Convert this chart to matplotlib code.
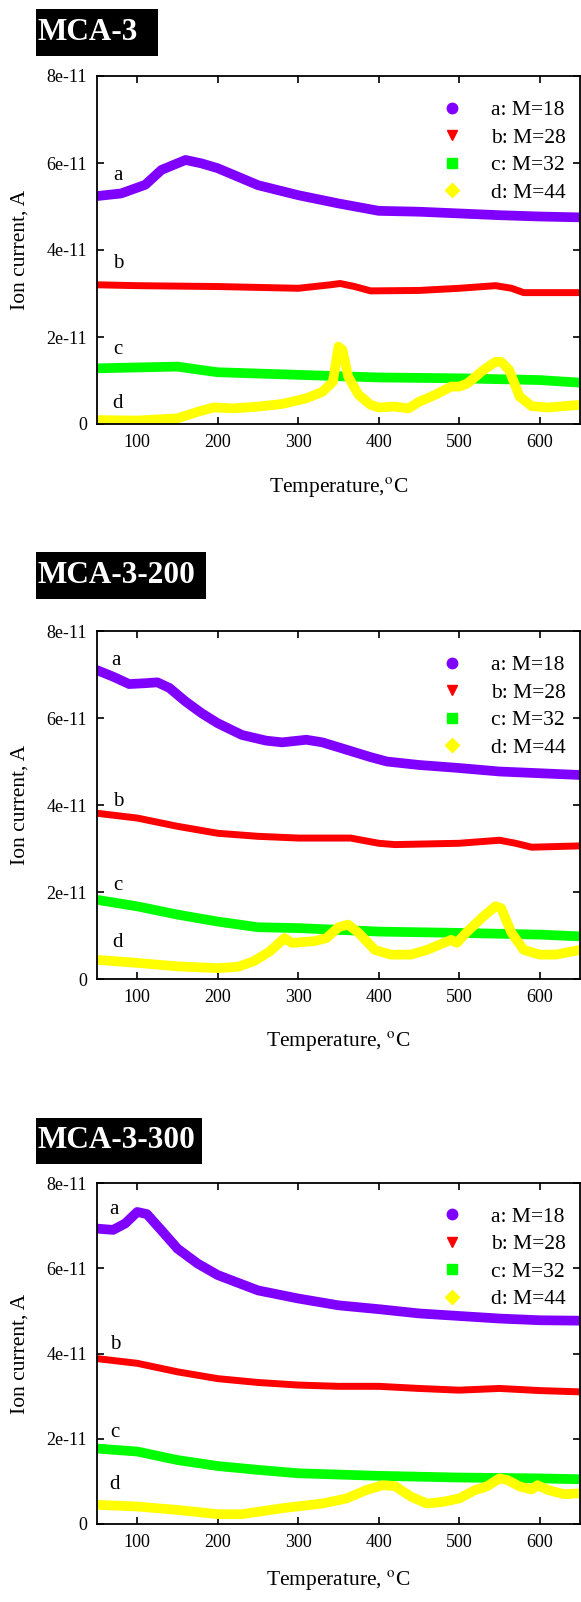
import matplotlib
matplotlib.use('Agg')
import matplotlib.pyplot as plt
from matplotlib.lines import Line2D
from matplotlib.patches import Rectangle

plt.rcParams['font.family'] = ['Liberation Serif', 'DejaVu Serif']
plt.rcParams['mathtext.fontset'] = 'stix'

# --- data (ion current in units of 1e-11 A) ---
# MCA-3
mca3_t_a = [50, 80, 110, 130, 160, 180, 200, 250, 300, 350, 400, 450, 500, 550, 600, 650]
mca3_a = [5.24, 5.3, 5.5, 5.84, 6.07, 5.99, 5.88, 5.49, 5.26, 5.07, 4.9, 4.88, 4.84, 4.8, 4.77, 4.75]
mca3_t_b = [50, 100, 200, 300, 340, 352, 370, 390, 450, 500, 545, 565, 580, 650]
mca3_b = [3.2, 3.18, 3.16, 3.12, 3.2, 3.23, 3.16, 3.06, 3.07, 3.12, 3.18, 3.12, 3.02, 3.02]
mca3_t_c = [50, 150, 180, 200, 300, 400, 500, 600, 650]
mca3_c = [1.28, 1.32, 1.24, 1.19, 1.13, 1.07, 1.05, 1.01, 0.95]
mca3_t_d = [50, 100, 150, 175, 195, 220, 250, 280, 310, 330, 343, 350, 355, 362, 375, 390,
            400, 420, 437, 450, 470, 490, 500, 510, 530, 545, 552, 562, 575, 590, 610, 650]
mca3_d = [0.09, 0.08, 0.13, 0.28, 0.38, 0.36, 0.4, 0.46, 0.59, 0.74, 0.97, 1.78, 1.7, 1.09, 0.67, 0.44,
          0.38, 0.4, 0.36, 0.51, 0.67, 0.86, 0.86, 0.93, 1.24, 1.43, 1.43, 1.24, 0.63, 0.41, 0.38, 0.44]

# MCA-3-200
mca200_t_a = [50, 70, 90, 110, 125, 140, 160, 180, 200, 230, 260, 280, 310, 330, 360, 390,
              410, 450, 500, 550, 600, 650]
mca200_a = [7.1, 6.95, 6.78, 6.8, 6.82, 6.69, 6.38, 6.11, 5.88, 5.61, 5.48, 5.44, 5.5, 5.44, 5.27, 5.1,
            5.0, 4.92, 4.85, 4.77, 4.73, 4.69]
mca200_t_b = [50, 100, 150, 200, 250, 300, 365, 400, 420, 500, 550, 570, 590, 650]
mca200_b = [3.81, 3.7, 3.51, 3.35, 3.28, 3.24, 3.24, 3.12, 3.09, 3.12, 3.19, 3.12, 3.03, 3.06]
mca200_t_c = [50, 100, 150, 200, 250, 300, 350, 400, 500, 600, 650]
mca200_c = [1.82, 1.67, 1.48, 1.32, 1.19, 1.17, 1.13, 1.09, 1.06, 1.02, 0.98]
mca200_t_d = [50, 100, 150, 200, 225, 245, 265, 283, 292, 320, 335, 350, 362, 375, 395, 415,
              440, 460, 490, 497, 510, 530, 545, 552, 565, 580, 600, 620, 650]
mca200_d = [0.44, 0.37, 0.29, 0.25, 0.28, 0.41, 0.64, 0.94, 0.83, 0.87, 0.94, 1.19, 1.25, 1.06, 0.67, 0.56,
            0.56, 0.67, 0.9, 0.83, 1.09, 1.44, 1.67, 1.63, 1.06, 0.67, 0.56, 0.56, 0.67]

# MCA-3-300
mca300_t_a = [50, 70, 85, 100, 112, 130, 150, 175, 200, 250, 300, 350, 400, 450, 500, 550, 600, 650]
mca300_a = [6.93, 6.9, 7.05, 7.32, 7.27, 6.89, 6.46, 6.11, 5.84, 5.48, 5.29, 5.13, 5.04, 4.94, 4.88, 4.82,
            4.78, 4.77]
mca300_t_b = [50, 100, 150, 200, 250, 300, 350, 400, 450, 500, 550, 600, 650]
mca300_b = [3.88, 3.77, 3.57, 3.41, 3.32, 3.26, 3.23, 3.23, 3.18, 3.14, 3.18, 3.13, 3.1]
mca300_t_c = [50, 100, 150, 200, 250, 300, 400, 500, 600, 650]
mca300_c = [1.77, 1.7, 1.5, 1.36, 1.27, 1.19, 1.13, 1.09, 1.07, 1.05]
mca300_t_d = [50, 100, 150, 200, 230, 280, 330, 360, 385, 405, 420, 440, 460, 480, 500, 520,
              528, 535, 550, 560, 575, 590, 597, 610, 630, 650]
mca300_d = [0.45, 0.41, 0.33, 0.23, 0.23, 0.37, 0.48, 0.6, 0.8, 0.91, 0.89, 0.64, 0.48, 0.52, 0.6, 0.8,
            0.84, 0.89, 1.07, 1.03, 0.88, 0.81, 0.91, 0.8, 0.7, 0.72]

series_labels = ['a: M=18', 'b: M=28', 'c: M=32', 'd: M=44']
series_colors = ['#8000ff', '#ff0000', '#00ff00', '#ffff00']
series_markers = ['o', 'v', 's', 'D']
x_ticks = [100, 200, 300, 400, 500, 600]
y_ticks = [0, 2, 4, 6, 8]
y_tick_labels = ['0', '2e-11', '4e-11', '6e-11', '8e-11']

panels = [
    ('MCA-3', 'Temperature,$^{\\rm o}$C',
     [(mca3_t_a, mca3_a), (mca3_t_b, mca3_b), (mca3_t_c, mca3_c), (mca3_t_d, mca3_d)]),
    ('MCA-3-200', 'Temperature, $^{\\rm o}$C',
     [(mca200_t_a, mca200_a), (mca200_t_b, mca200_b), (mca200_t_c, mca200_c), (mca200_t_d, mca200_d)]),
    ('MCA-3-300', 'Temperature, $^{\\rm o}$C',
     [(mca300_t_a, mca300_a), (mca300_t_b, mca300_b), (mca300_t_c, mca300_c), (mca300_t_d, mca300_d)]),
]

W, H = 581, 1602
fig = plt.figure(figsize=(W / 100, H / 100), dpi=100)

# layout in pixels: (axes top, axes bottom, title box x0, x1, y0, y1, xlabel offset)
layout = [
    (76, 424, 36, 158, 9, 56, 63),
    (631, 979, 36, 206, 552, 599, 62),
    (1183, 1524, 36, 202, 1118, 1164, 56),
]
curve_tags = [
    [(76, 5.72), (76, 3.68), (76, 1.72), (76, 0.48)],
    [(74, 7.33), (76, 4.09), (76, 2.14), (76, 0.83)],
    [(71, 7.37), (72, 4.2), (72, 2.14), (72, 0.92)],
]
lws = [7, 5, 7, 7]

for (title, xlab, curves), (top, bot, bx0, bx1, by0, by1, xoff), tags in zip(panels, layout, curve_tags):
    ax = fig.add_axes([97 / W, 1 - bot / H, 483 / W, (bot - top) / H])
    for (t, v), col, lw in zip(curves, series_colors, lws):
        ax.plot(t, v, color=col, lw=lw, solid_capstyle='round', solid_joinstyle='round')
    for (tx, ty), lab in zip(tags, 'abcd'):
        ax.text(tx, ty, lab, fontsize=15, ha='center', va='center')

    ax.set_xlim(50, 650)
    ax.set_ylim(0, 8)
    ax.set_xticks(x_ticks)
    ax.set_yticks(y_ticks)
    ax.set_yticklabels(y_tick_labels)
    ax.tick_params(direction='in', top=True, right=True, length=5, width=1.2,
                   labelsize=13, pad=7)
    for sp in ax.spines.values():
        sp.set_linewidth(1.3)

    ax.set_xlabel(xlab, fontsize=15.5, va='center')
    ax.xaxis.set_label_coords(0.5, -(xoff / (bot - top)))
    ax.set_ylabel('Ion current, A', fontsize=15.5, va='center')
    ax.yaxis.set_label_coords(-77 / 483, 0.5)

    handles = [Line2D([], [], ls='none', marker=m, color=c, markersize=7.5)
               for m, c in zip(series_markers, series_colors)]
    ax.legend(handles, series_labels, loc='upper right', bbox_to_anchor=(0.97, 0.93),
              frameon=False, fontsize=15.5, handlelength=1.0, handletextpad=1.3,
              labelspacing=0.34, borderpad=0, borderaxespad=0)

    # black title box
    fig.patches.append(Rectangle((bx0 / W, 1 - by1 / H), (bx1 - bx0) / W, (by1 - by0) / H,
                                 transform=fig.transFigure, facecolor='black', edgecolor='none'))
    fig.text((bx0 + 2) / W, 1 - (by0 + by1) / 2 / H, title, color='white', fontsize=22.5,
             fontweight='bold', ha='left', va='center')

fig.savefig('out.png', dpi=100)
